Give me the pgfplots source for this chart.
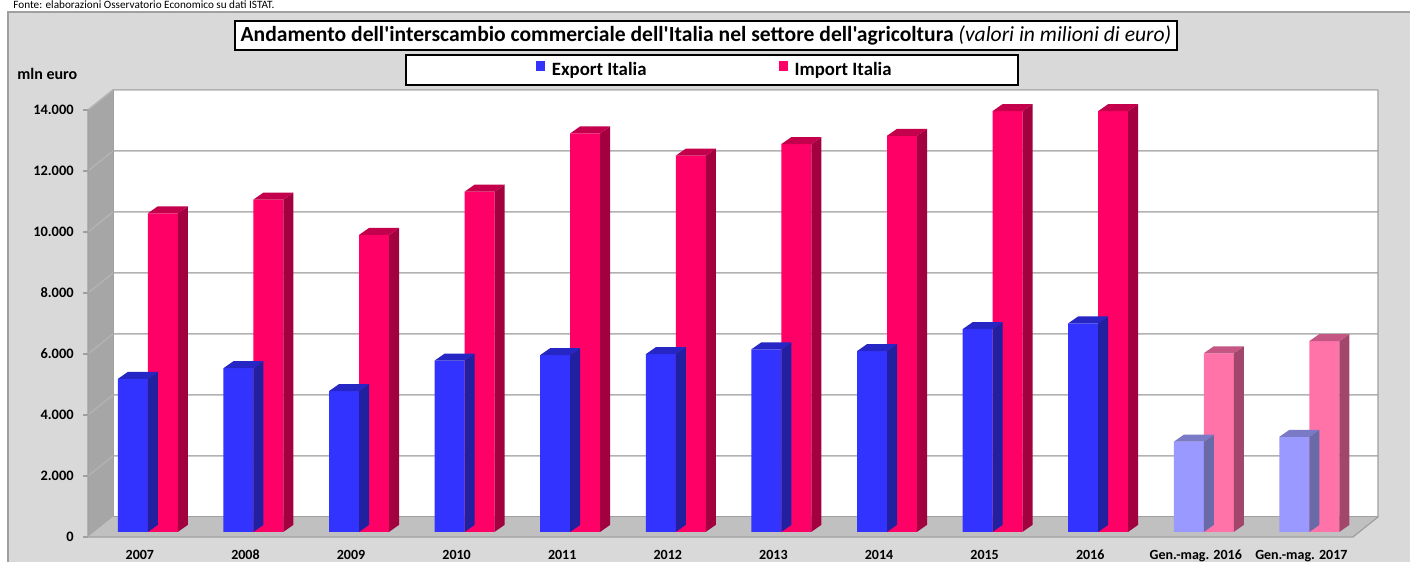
\documentclass[border=0pt]{standalone}
\usepackage{fontspec}
\setmainfont{Carlito}[Ligatures=TeXOff]
\usepackage{pgfplots}
\pgfplotsset{compat=1.18}
\usepackage{pgfplotstable}

\definecolor{bgc}{HTML}{D9D9D9}
\definecolor{framec}{HTML}{A0A0A0}
\definecolor{wallc}{HTML}{A6A6A6}
\definecolor{floorc}{HTML}{C0C0C0}
\definecolor{gridc}{HTML}{B2B2B2}
\definecolor{expC}{HTML}{3333FF}
\definecolor{expTop}{HTML}{2626C4}
\definecolor{expSide}{HTML}{2020A0}
\definecolor{impC}{HTML}{FF0066}
\definecolor{impTop}{HTML}{C4004C}
\definecolor{impSide}{HTML}{A3003F}
\definecolor{gmExp}{HTML}{9999FF}
\definecolor{gmExpTop}{HTML}{7A7AC6}
\definecolor{gmExpSide}{HTML}{6A6AA8}
\definecolor{gmImp}{HTML}{FF73A8}
\definecolor{gmImpTop}{HTML}{C45683}
\definecolor{gmImpSide}{HTML}{A3466C}

\pgfplotstableread{
x e i
0 5020 10450
1 5370 10900
2 4620 9740
3 5620 11160
4 5800 13070
5 5830 12340
6 5990 12720
7 5930 12990
8 6650 13800
9 6840 13800
}\tblyears
\pgfplotstableread{
x e i
10 2960 5860
11 3120 6260
}\tblgm

\pgfkeys{/bar3d/.cd, L/.initial=0pt, R/.initial=15pt, top/.initial=black, side/.initial=black}

\pgfdeclareplotmark{bar3d}{%
  \pgfmathsetlengthmacro\hh{\hv*0.01525}%
  \edef\bL{\pgfkeysvalueof{/bar3d/L}}%
  \edef\bR{\pgfkeysvalueof{/bar3d/R}}%
  \pgfmathsetlengthmacro\bRd{\bR+5pt}%
  \pgfmathsetlengthmacro\bLd{\bL+5pt}%
  \pgfmathsetlengthmacro\hb{3.5pt-\hh}%
  \pgfmathsetlengthmacro\hm{-\hh}%
  \edef\sidec{\pgfkeysvalueof{/bar3d/side}}%
  \edef\topc{\pgfkeysvalueof{/bar3d/top}}%
  \pgfsetfillcolor{\sidec}%
  \pgfpathmoveto{\pgfqpoint{\bR}{0pt}}%
  \pgfpathlineto{\pgfqpoint{\bRd}{3.5pt}}%
  \pgfpathlineto{\pgfqpoint{\bRd}{\hb}}%
  \pgfpathlineto{\pgfqpoint{\bR}{\hm}}%
  \pgfpathclose
  \pgfusepath{fill}%
  \pgfsetfillcolor{\topc}%
  \pgfpathmoveto{\pgfqpoint{\bL}{0pt}}%
  \pgfpathlineto{\pgfqpoint{\bR}{0pt}}%
  \pgfpathlineto{\pgfqpoint{\bRd}{3.5pt}}%
  \pgfpathlineto{\pgfqpoint{\bLd}{3.5pt}}%
  \pgfpathclose
  \pgfusepath{fill}%
}

\newcommand{\F}[2]{([shift={(-3pt,-2.5pt)}]axis cs:#1,#2)}
\newcommand{\B}[2]{([shift={(9.5pt,7.5pt)}]axis cs:#1,#2)}

\pgfplotsset{
  sqlegend/.style={legend image code/.code={\fill[##1,draw=none] (0pt,-0.3pt) rectangle (4.5pt,4.7pt); \path (6pt,0pt);}},
  expbar/.style={ybar, bar width=15pt, bar shift=-7.5pt, draw=none, sqlegend},
  impbar/.style={ybar, bar width=15pt, bar shift=7.5pt, draw=none, sqlegend},
  expdeco/.style={forget plot, only marks, scatter, mark=bar3d, /bar3d/L=-15pt, /bar3d/R=0pt, visualization depends on={\thisrow{e} \as \hv}},
  impdeco/.style={forget plot, only marks, scatter, mark=bar3d, /bar3d/L=0pt, /bar3d/R=15pt, visualization depends on={\thisrow{i} \as \hv}},
}

\begin{document}
\begin{tikzpicture}
\useasboundingbox (0pt,0pt) rectangle (705pt,281pt);
\clip (0pt,0pt) rectangle (705pt,281pt);
\fill[white] (0pt,0pt) rectangle (705pt,281pt);
\fill[bgc] (4pt,-5pt) rectangle (710pt,275pt);
\draw[framec, line width=0.6pt] (4pt,-5pt) -- (4pt,275pt) -- (710pt,275pt);
\node[anchor=base west, inner sep=0pt, font=\fontsize{5.6}{6.5}\selectfont] at (6.5pt,276.6pt) {Fonte: elaborazioni Osservatorio Economico su dati ISTAT.};
\node[draw=black, line width=0.7pt, fill=white, minimum width=471pt, minimum height=14.5pt, inner sep=0pt,
  font=\fontsize{10.8}{12}\selectfont] at (353pt,263.25pt)
  {\bfseries Andamento dell'interscambio commerciale dell'Italia nel settore dell'agricoltura \mdseries\itshape (valori in milioni di euro)};
\draw[black, line width=0.6pt, fill=white] (203pt,238.5pt) rectangle (509pt,253.5pt);
\node[anchor=base west, inner sep=0pt, font=\bfseries\fontsize{8}{9}\selectfont] at (8.5pt,241pt) {mln euro};

\begin{axis}[
  at={(47pt,15pt)}, anchor=south west,
  scale only axis, width=632.5pt, height=213.5pt,
  xmin=-0.51, xmax=11.47, ymin=0, ymax=14000,
  clip=false, scaled y ticks=false,
  axis line style={draw=none}, major tick length=0pt,
  xtick={0,...,11},
  xticklabels={2007,2008,2009,2010,2011,2012,2013,2014,2015,2016,Gen.-mag. 2016,Gen.-mag. 2017},
  ytick={0,2000,...,14000},
  yticklabels={0,2.000,4.000,6.000,8.000,10.000,12.000,14.000},
  xticklabel style={anchor=base, inner sep=0pt, yshift=-14pt, xshift=-4pt, font=\bfseries\fontsize{7}{8}\selectfont},
  yticklabel style={anchor=east, inner sep=0pt, xshift=-10pt, yshift=-2.5pt, font=\bfseries\fontsize{7.2}{8}\selectfont},
  legend columns=2,
  legend style={at={(0.4915,1.082)}, anchor=center, draw=none, fill=none,
    font=\bfseries\fontsize{9.4}{11}\selectfont,
    /tikz/every even column/.append style={column sep=64pt}},
]
  \fill[white] \B{-0.51}{0} rectangle \B{11.47}{14000};
  \fill[wallc] \F{-0.51}{0} -- \F{-0.51}{14000} -- \B{-0.51}{14000} -- \B{-0.51}{0} -- cycle;
  \fill[floorc] \F{-0.51}{0} -- \F{11.47}{0} -- \B{11.47}{0} -- \B{-0.51}{0} -- cycle;
  \pgfplotsinvokeforeach{2000,4000,6000,8000,10000,12000,14000}{
    \draw[gridc, line width=0.75pt] \F{-0.51}{#1} -- \B{-0.51}{#1} -- \B{11.47}{#1};
  }
  \draw[framec, line width=0.6pt] \F{-0.51}{14000} -- \F{-0.51}{0} -- \F{11.47}{0} -- \B{11.47}{0} -- \B{11.47}{14000};
  \draw[framec, line width=0.5pt] \B{-0.51}{0} -- \B{11.47}{0};
  \draw[framec, line width=0.5pt] \B{-0.51}{0} -- \B{-0.51}{14000};
  \pgfplotsinvokeforeach{0,2000,4000,6000,8000,10000,12000,14000}{
    \draw[framec, line width=0.6pt] ([shift={(-5.5pt,-2.5pt)}]axis cs:-0.51,#1) -- \F{-0.51}{#1};
  }

\addplot[expdeco, /bar3d/top=expTop, /bar3d/side=expSide] table[x=x,y=e]{\tblyears};
\addplot[expbar, fill=expC] table[x=x,y=e]{\tblyears};
\addplot[impdeco, /bar3d/top=impTop, /bar3d/side=impSide] table[x=x,y=i]{\tblyears};
\addplot[impbar, fill=impC] table[x=x,y=i]{\tblyears};
\addplot[expdeco, /bar3d/top=gmExpTop, /bar3d/side=gmExpSide] table[x=x,y=e]{\tblgm};
\addplot[expbar, fill=gmExp, forget plot] table[x=x,y=e]{\tblgm};
\addplot[impdeco, /bar3d/top=gmImpTop, /bar3d/side=gmImpSide] table[x=x,y=i]{\tblgm};
\addplot[impbar, fill=gmImp, forget plot] table[x=x,y=i]{\tblgm};
\legend{Export Italia, Import Italia}
\end{axis}
\end{tikzpicture}
\end{document}
